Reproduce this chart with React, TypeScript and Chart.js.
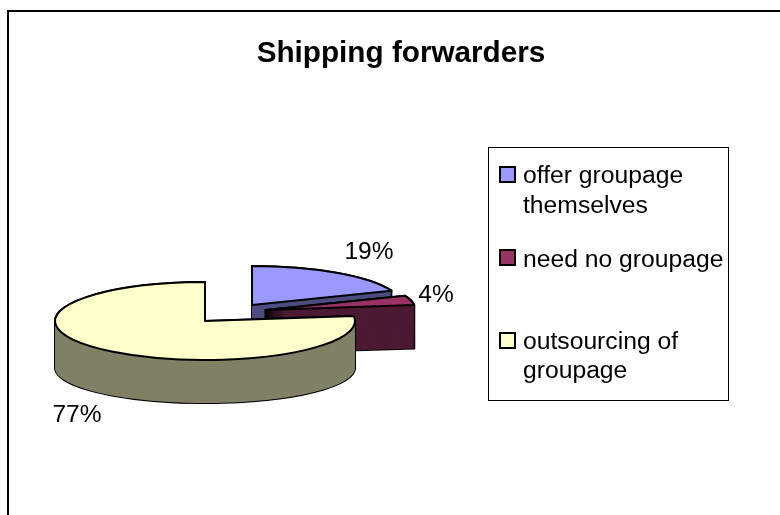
import React, { useEffect, useRef } from "react";
import { Chart, registerables } from "chart.js";

Chart.register(...registerables);

const FONT = '"Liberation Sans", Arial, sans-serif';

const chartTitle = "Shipping forwarders";
const categories = ["offer groupage themselves", "need no groupage", "outsourcing of groupage"];
const legendLines = [["offer groupage", "themselves"], ["need no groupage"], ["outsourcing of", "groupage"]];
const shares = [19, 4, 77];
const topColors = ["#9999FF", "#993366", "#FFFFCC"];
const sideColors = ["#4D4D80", "#4D1A33", "#808066"];

// Placement of each wedge's apex on the page, and the height of its wall.
const apexX = [252, 265.5, 205];
const apexY = [305, 310, 321];
const wallDepth = [46, 43, 47];
const valueLabelX = [369, 436, 77];
const valueLabelY = [252, 295, 415];

const TILT_TOP = 39 / 150;
const TILT_BASE = 35 / 150;

const legendSwatchY = [167, 250, 333];
const legendBaselines = [[183, 213], [267], [349, 378]];

function wedgePath(ctx: CanvasRenderingContext2D, x: number, y: number, rx: number, ry: number, a0: number, a1: number) {
  ctx.beginPath();
  ctx.moveTo(x, y);
  ctx.ellipse(x, y, rx, ry, 0, a0, a1);
  ctx.closePath();
}

// Draws the pie as an extruded, tilted disc using the angles the pie controller computed.
const tiltedPie = {
  id: "tiltedPie",
  beforeDatasetDraw(chart: any) {
    const ctx: CanvasRenderingContext2D = chart.ctx;
    const arcs = chart.getDatasetMeta(0).data;
    ctx.save();
    ctx.lineJoin = "round";
    arcs.forEach((arc: any, i: number) => {
      const { startAngle, endAngle, outerRadius } = arc.getProps(["startAngle", "endAngle", "outerRadius"], true);
      const steps = wallDepth[i];
      const layers: [number, number][] = [];
      for (let s = steps; s >= 0; s--) {
        const t = s / steps;
        layers.push([apexY[i] + wallDepth[i] * t, outerRadius * (TILT_TOP + (TILT_BASE - TILT_TOP) * t)]);
      }
      // Wall silhouette: black underlay first, then the wall colour over it.
      ctx.strokeStyle = "#000";
      ctx.lineWidth = 2;
      layers.forEach(([y, ry]) => {
        wedgePath(ctx, apexX[i], y, outerRadius, ry, startAngle, endAngle);
        ctx.stroke();
      });
      ctx.fillStyle = sideColors[i];
      layers.forEach(([y, ry]) => {
        wedgePath(ctx, apexX[i], y, outerRadius, ry, startAngle, endAngle);
        ctx.fill();
      });
      // Top face.
      wedgePath(ctx, apexX[i], apexY[i], outerRadius, outerRadius * TILT_TOP, startAngle, endAngle);
      ctx.fillStyle = topColors[i];
      ctx.fill();
      ctx.stroke();
    });
    ctx.restore();
    return false;
  },
  afterDatasetsDraw(chart: any) {
    const ctx: CanvasRenderingContext2D = chart.ctx;
    ctx.save();
    ctx.fillStyle = "#000";
    ctx.font = `24.5px ${FONT}`;
    ctx.textAlign = "center";
    ctx.textBaseline = "middle";
    shares.forEach((v, i) => ctx.fillText(`${v}%`, valueLabelX[i], valueLabelY[i]));
    ctx.restore();
  },
};

// Outer frame, open towards the right and bottom page edges, and the boxed legend.
const frameAndLegend = {
  id: "frameAndLegend",
  beforeDraw(chart: any) {
    const ctx: CanvasRenderingContext2D = chart.ctx;
    ctx.save();
    ctx.strokeStyle = "#000";
    ctx.lineWidth = 2;
    ctx.strokeRect(8, 11, 800, 530);
    ctx.restore();
  },
  afterDraw(chart: any) {
    const ctx: CanvasRenderingContext2D = chart.ctx;
    ctx.save();
    ctx.strokeStyle = "#000";
    ctx.lineWidth = 1;
    ctx.strokeRect(488.5, 147.5, 240, 253);
    ctx.font = `24.7px ${FONT}`;
    ctx.textAlign = "left";
    ctx.textBaseline = "alphabetic";
    legendLines.forEach((lines, i) => {
      ctx.fillStyle = topColors[i];
      ctx.lineWidth = 2;
      ctx.fillRect(500, legendSwatchY[i], 15, 15);
      ctx.strokeRect(500, legendSwatchY[i], 15, 15);
      ctx.fillStyle = "#000";
      lines.forEach((text, j) => ctx.fillText(text, 523, legendBaselines[i][j]));
    });
    ctx.restore();
  },
};

export default function App() {
  const ref = useRef<HTMLCanvasElement>(null);
  useEffect(() => {
    const chart = new Chart(ref.current!, {
      type: "pie",
      data: {
        labels: categories,
        datasets: [{ data: shares, backgroundColor: topColors, borderWidth: 0 }],
      },
      options: {
        animation: false,
        responsive: false,
        radius: 150,
        layout: { padding: { left: 22 } },
        plugins: {
          legend: { display: false },
          tooltip: { enabled: false },
          title: {
            display: true,
            text: chartTitle,
            color: "#000",
            font: { family: FONT, size: 29.7, weight: "bold" },
            padding: { top: 36, bottom: 0 },
          },
        },
      },
      plugins: [tiltedPie, frameAndLegend],
    } as any);
    return () => chart.destroy();
  }, []);
  return (
    <div style={{ position: "absolute", left: 0, top: 0, width: 780, height: 515, overflow: "hidden" }}>
      <canvas ref={ref} width={780} height={515} style={{ display: "block" }} />
    </div>
  );
}
